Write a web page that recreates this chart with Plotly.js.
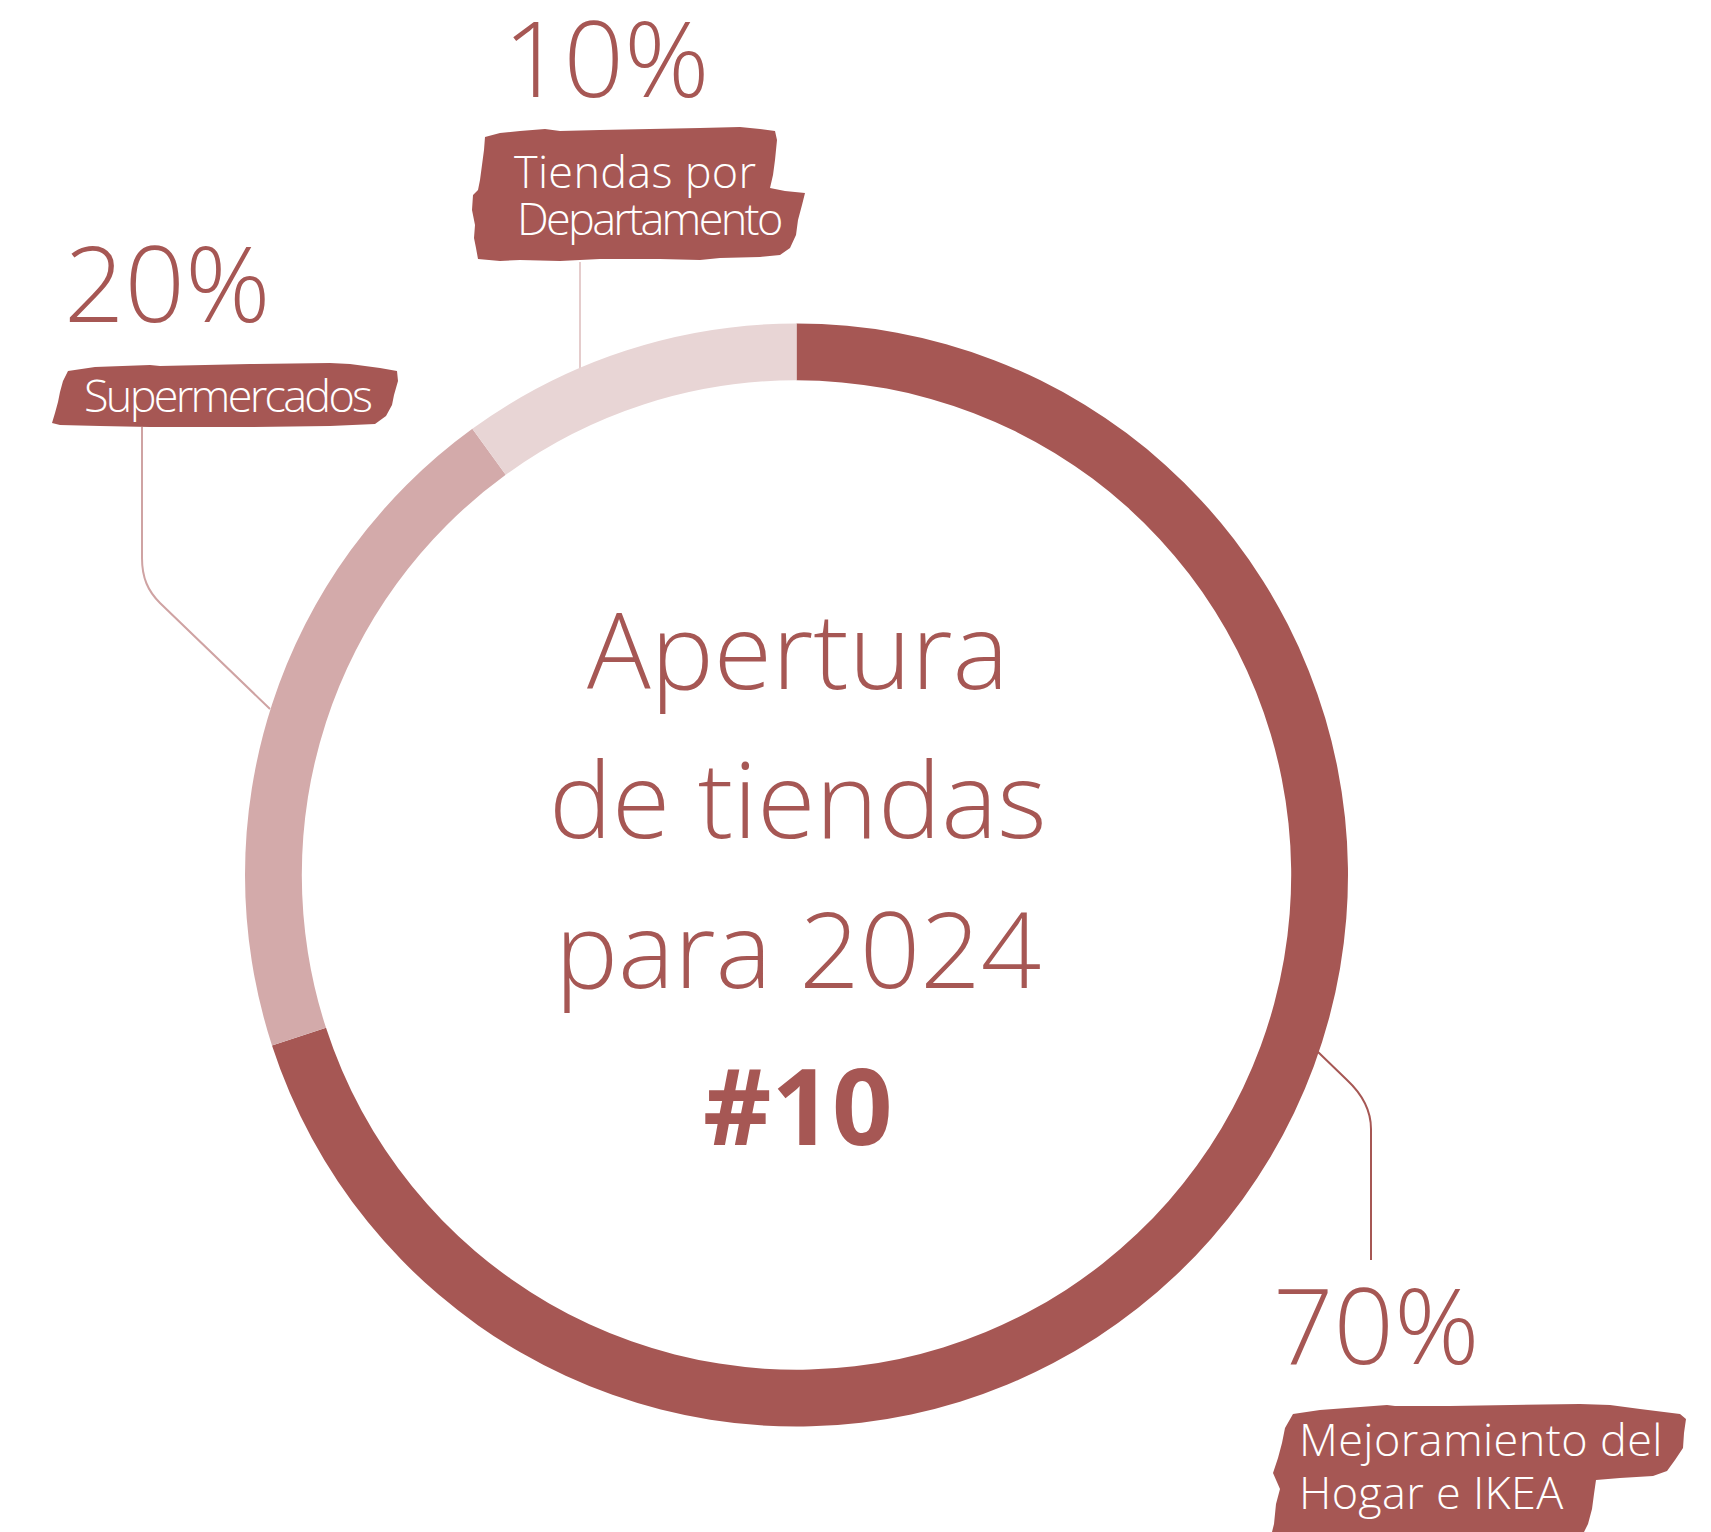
<!DOCTYPE html>
<html>
<head>
<meta charset="utf-8">
<script src="https://cdn.plot.ly/plotly-3.0.1.min.js"></script>
<style>
html, body { margin: 0; padding: 0; background: #ffffff; }
#chart { width: 1711px; height: 1532px; }
</style>
</head>
<body>
<div id="chart"></div>
<script>
// ---- data ----
const categories = ['Mejoramiento del Hogar e IKEA', 'Supermercados', 'Tiendas por Departamento'];
const values = [70, 20, 10];
const labelLines = [['Mejoramiento del', 'Hogar e IKEA'], ['Supermercados'], ['Tiendas por', 'Departamento']];
const centerLines = ['Apertura', 'de tiendas', 'para 2024'];
const centerRank = '#10';

// ---- style ----
const DARK = '#A65754';
const sliceColors = ['#A65754', '#D3AAAA', '#E8D5D5'];
const connectorColors = ['#A65754', '#CFA3A3', '#E5CCCC'];
const FONT = '"Open Sans", "Noto Sans", sans-serif';
const W = 1711, H = 1532;

// layout positions (pixel space of the page)
const pctPos = [[1376, 1323], [167, 281], [606, 56]];
const labelPos = [[[1297, 1438], [1297, 1491]], [[82, 394]], [[512, 170], [515, 217]]];
const labelSpacing = [[0.4, 0.3], [-2.7], [0.3, -2.7]];
const connectorPaths = [
  'M 1317 1051 L 1347 1080 C 1362 1094 1371 1110 1371 1129 L 1371 1260',
  'M 142 427 L 142 558 C 142 578 148 591 160 603 L 270 709',
  'M 580 262 L 580 370'
];
const brushPaths = [
  'M 1293 1414 L 1320 1410 L 1387 1405 L 1395 1406 L 1450 1406 L 1580 1404 L 1610 1405 L 1640 1409 L 1680 1414 L 1686 1419 L 1684 1433 L 1683 1448 L 1675 1460 L 1667 1471 L 1653 1476 L 1620 1478 L 1596 1480 L 1594 1494 L 1592 1509 L 1588 1524 L 1584 1532 L 1272 1532 L 1274 1524 L 1276 1504 L 1280 1489 L 1273 1473 L 1278 1458 L 1282 1443 L 1285 1428 Z',
  'M 68 371 L 95 367 L 150 365 L 160 366 L 250 364 L 330 363 L 350 364 L 380 368 L 397 371 L 398 381 L 394 395 L 392 405 L 386 416 L 375 424 L 330 426 L 250 427 L 150 427 L 100 426 L 60 425 L 52 423 L 55 413 L 58 402 L 60 392 L 63 381 Z',
  'M 485 137 L 500 133 L 520 131 L 545 129 L 560 131 L 600 130 L 650 129 L 700 128 L 740 127 L 760 129 L 775 131 L 777 140 L 775 160 L 773 175 L 770 188 L 785 191 L 805 193 L 802 205 L 798 220 L 796 235 L 790 248 L 780 255 L 760 257 L 720 258 L 700 260 L 660 259 L 600 259 L 560 261 L 520 260 L 500 261 L 478 259 L 476 248 L 474 238 L 475 225 L 472 210 L 473 195 L 478 190 L 480 180 L 482 165 L 484 150 Z'
];

const cx = 796.5, cy = 875, R = 551.5;

const trace = {
  type: 'pie',
  labels: categories,
  values: values,
  sort: false,
  direction: 'clockwise',
  rotation: 0,
  hole: 0.897,
  textinfo: 'none',
  hoverinfo: 'label+percent',
  showlegend: false,
  marker: { colors: sliceColors, line: { width: 0 } },
  domain: { x: [(cx - R) / W, (cx + R) / W], y: [(H - cy - R) / H, (H - cy + R) / H] }
};

const shapes = [];
connectorPaths.forEach((p, i) => shapes.push({
  type: 'path', path: p, xref: 'x', yref: 'y', layer: 'below',
  line: { color: connectorColors[i], width: 2 }
}));
brushPaths.forEach(p => shapes.push({
  type: 'path', path: p, xref: 'x', yref: 'y', layer: 'above',
  fillcolor: DARK, line: { width: 0 }
}));

const annotations = [];
const spacingByIdx = {};
values.forEach((v, i) => {
  annotations.push({
    text: v + '%', x: pctPos[i][0], y: pctPos[i][1], xref: 'x', yref: 'y',
    xanchor: 'center', yanchor: 'middle', showarrow: false,
    font: { family: FONT, size: 106, color: DARK, weight: 300 }
  });
  labelLines[i].forEach((t, j) => {
    spacingByIdx[annotations.length] = labelSpacing[i][j];
    annotations.push({
      text: t, x: labelPos[i][j][0], y: labelPos[i][j][1], xref: 'x', yref: 'y',
      xanchor: 'left', yanchor: 'middle', align: 'left', showarrow: false,
      font: { family: FONT, size: 45, color: '#ffffff', weight: 300 }
    });
  });
});
const centerY = [648, 797, 947];
const centerX = 798;
centerLines.forEach((t, i) => annotations.push({
  text: t, x: centerX, y: centerY[i], xref: 'x', yref: 'y',
  xanchor: 'center', yanchor: 'middle', showarrow: false,
  font: { family: FONT, size: 106, color: DARK, weight: 300 }
}));
annotations.push({
  text: '<b>' + centerRank + '</b>', x: centerX, y: 1104, xref: 'x', yref: 'y',
  xanchor: 'center', yanchor: 'middle', showarrow: false,
  font: { family: FONT, size: 106, color: DARK, weight: 700 }
});

const layout = {
  width: W, height: H,
  margin: { l: 0, r: 0, t: 0, b: 0, pad: 0 },
  paper_bgcolor: '#ffffff', plot_bgcolor: 'rgba(0,0,0,0)',
  xaxis: { range: [0, W], visible: false, fixedrange: true, domain: [0, 1] },
  yaxis: { range: [H, 0], visible: false, fixedrange: true, domain: [0, 1] },
  shapes: shapes,
  annotations: annotations,
  showlegend: false
};

Plotly.newPlot('chart', [trace], layout, { displayModeBar: false, staticPlot: true }).then(gd => {
  const groups = gd.querySelectorAll('.annotation');
  Object.keys(spacingByIdx).forEach(k => {
    const g = groups[+k];
    if (g) {
      const t = g.querySelector('text.annotation-text');
      if (t) t.style.letterSpacing = spacingByIdx[k] + 'px';
    }
  });
});
</script>
</body>
</html>
